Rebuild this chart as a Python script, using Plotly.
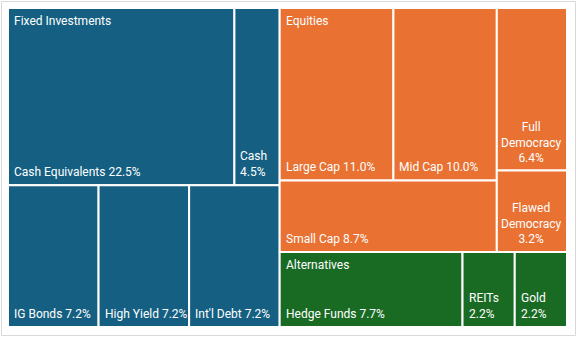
import plotly.graph_objects as go

# ---------------- data ----------------
GROUPS = ["Fixed Investments", "Equities", "Alternatives"]
GROUP_COLORS = ["#156082", "#E97132", "#196B24"]
LABELS = ["Cash Equivalents", "Cash", "IG Bonds", "High Yield", "Int'l Debt",
          "Large Cap", "Mid Cap", "Small Cap", "Full Democracy", "Flawed Democracy",
          "Hedge Funds", "REITs", "Gold"]
PARENTS = ["Fixed Investments"] * 5 + ["Equities"] * 5 + ["Alternatives"] * 3
VALUES = [22.5, 4.5, 7.2, 7.2, 7.2, 11.0, 10.0, 8.7, 6.4, 3.2, 7.7, 2.2, 2.2]

# Excel-style tiling order: 'x' = side by side, 'y' = stacked (sizes come from VALUES)
TILING = ("x", [
    ("y", [("x", ["Cash Equivalents", "Cash"]),
           ("x", ["IG Bonds", "High Yield", "Int'l Debt"])]),
    ("y", [("x", [("y", [("x", ["Large Cap", "Mid Cap"]), "Small Cap"]),
                  ("y", ["Full Democracy", "Flawed Democracy"])]),
           ("x", ["Hedge Funds", "REITs", "Gold"])]),
])

# ---------------- geometry of the figure ----------------
FW, FH = 577, 337
PL, PR, PT, PB = 8, 567, 8, 327
PW, PH = PR - PL, PB - PT
FONT = "Roboto"
FS = 12

val = dict(zip(LABELS, VALUES))
par = dict(zip(LABELS, PARENTS))
gcol = dict(zip(GROUPS, GROUP_COLORS))


def total(node):
    if isinstance(node, str):
        return val[node]
    return sum(total(c) for c in node[1])


rects = {}


def place(node, x0, y0, x1, y1):
    if isinstance(node, str):
        rects[node] = (x0, y0, x1, y1)
        return
    d, kids = node
    t = total(node)
    pos = x0 if d == "x" else y0
    for k in kids:
        f = total(k) / t
        if d == "x":
            nx = pos + f * (x1 - x0)
            place(k, pos, y0, nx, y1)
            pos = nx
        else:
            ny = pos + f * (y1 - y0)
            place(k, x0, pos, x1, ny)
            pos = ny


place(TILING, 0.0, 0.0, 1.0, 1.0)

NARROW = set("iIl.,'j|:; ")
MID = set("ftr")
WIDE = set("mwMW%")


def text_w(s):
    w = 0.0
    for ch in s:
        if ch in NARROW:
            w += 0.26
        elif ch in MID:
            w += 0.36
        elif ch in WIDE:
            w += 0.82
        elif ch.isdigit():
            w += 0.53
        elif ch.isupper():
            w += 0.62
        else:
            w += 0.50
    return w * FS


fig = go.Figure()
ann = []
first_in_group = {}
for lab in LABELS:
    x0, y0, x1, y1 = rects[lab]
    g = par[lab]
    fig.add_trace(go.Scatter(
        x=[x0, x1, x1, x0, x0], y=[y0, y0, y1, y1, y0],
        mode="lines", fill="toself", fillcolor=gcol[g],
        line=dict(color="white", width=2),
        name=lab, hoveron="fills", text=f"{g}<br>{lab}: {val[lab]:.1f}%",
        hoverinfo="text", showlegend=False))
    if g not in first_in_group:
        first_in_group[g] = lab
    cw = (x1 - x0) * PW - 3
    pct = f"{val[lab]:.1f}%"
    one = f"{lab} {pct}"
    if text_w(one) <= cw:
        txt, align, xa, xpos, xs = one, "left", "left", x0, 4
    elif text_w(lab) <= cw:
        txt, align, xa, xpos, xs = f"{lab}<br>{pct}", "left", "left", x0, 4
    else:
        txt = "<br>".join(lab.split(" ") + [pct])
        align, xa, xpos, xs = "center", "center", (x0 + x1) / 2, 0
    ann.append(dict(x=xpos, y=y1, xref="x", yref="y", text=txt, showarrow=False,
                    xanchor=xa, yanchor="bottom", align=align, xshift=xs, yshift=4,
                    font=dict(family=FONT, size=FS, color="white")))

for g in GROUPS:
    x0, y0, x1, y1 = rects[first_in_group[g]]
    ann.append(dict(x=x0, y=y0, xref="x", yref="y", text=g, showarrow=False,
                    xanchor="left", yanchor="top", xshift=4, yshift=-4,
                    font=dict(family=FONT, size=FS, color="white")))

fig.update_layout(
    width=FW, height=FH, margin=dict(l=0, r=0, t=0, b=0),
    paper_bgcolor="white", plot_bgcolor="white",
    xaxis=dict(domain=[PL / FW, PR / FW], range=[0, 1], visible=False, fixedrange=True),
    yaxis=dict(domain=[1 - PB / FH, 1 - PT / FH], range=[1, 0], visible=False, fixedrange=True),
    annotations=ann,
    shapes=[dict(type="rect", xref="paper", yref="paper",
                 x0=1.5 / FW, x1=1 - 1.5 / FW, y0=1.5 / FH, y1=1 - 1.5 / FH,
                 line=dict(color="#d9d9d9", width=1), fillcolor="rgba(0,0,0,0)")],
    font=dict(family=FONT),
)

fig.write_html("out.html")
